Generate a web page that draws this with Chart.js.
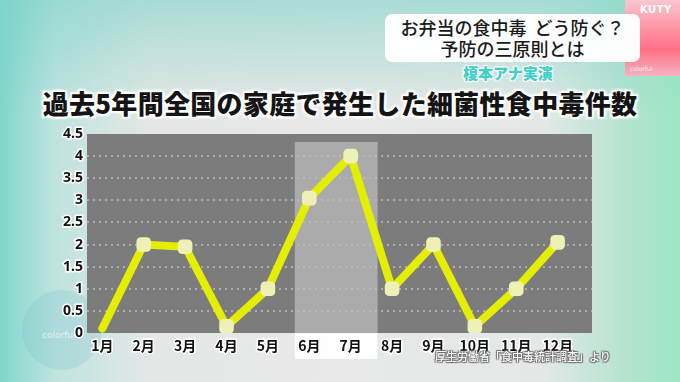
<!DOCTYPE html>
<html>
<head>
<meta charset="utf-8">
<script src="https://cdn.jsdelivr.net/npm/chart.js@4/dist/chart.umd.min.js"></script>
<style>
  html, body { margin:0; padding:0; }
  body {
    width:680px; height:382px; overflow:hidden; position:relative;
    font-family:"Noto Sans CJK JP","Noto Sans",sans-serif;
    background:
      linear-gradient(180deg, rgba(120,210,200,0.55) 0%, rgba(200,230,228,0.0) 30%),
      linear-gradient(90deg, #80d6cc 0%, #bfe3df 8%, #e4e7e6 22%, #e8e8e8 50%, #e3e8e7 80%, #b4e3d0 92%, #9ee6c2 100%);
  }
  #c { position:absolute; left:0; top:0; }
  .pink { position:absolute; left:625px; top:0; width:55px; height:76px;
    background:linear-gradient(180deg,#f9c6cf 0%,#ff8a9c 45%,#ff6f86 65%,#f8b3c0 100%); }
  .kuty { position:absolute; left:640px; top:4px; color:#fff; font:bold 10px "DejaVu Sans",sans-serif; letter-spacing:0.5px; }
  .colorful { position:absolute; left:630px; top:65px; color:#fff; font:6px "DejaVu Sans",sans-serif; opacity:0.85; }
  .banner { position:absolute; left:385px; top:14px; width:255px; height:48px;
    background:rgba(255,255,255,0.97); border-radius:7px; text-align:center;
    font-size:18px; line-height:21px; color:#1a1a1a; font-weight:500; padding-top:3px; box-sizing:border-box; }
  .ana { position:absolute; left:463px; top:62px; font-size:15px; font-weight:900; color:#3fcfc6;
    text-shadow:0 0 2px #fff,0 0 2px #fff,1px 1px 1px #fff,-1px -1px 1px #fff,1px -1px 1px #fff,-1px 1px 1px #fff; }
  .title { position:absolute; left:0; top:84px; width:680px; text-align:center; font-size:26px; font-weight:900;
    color:#141414; letter-spacing:0.3px;
    text-shadow:0 0 3px #fff,0 0 3px #fff,2px 2px 2px #fff,-2px -2px 2px #fff,2px -2px 2px #fff,-2px 2px 2px #fff; }
  .src { position:absolute; left:435px; top:348px; font-size:11px; color:#fff; font-weight:500;
    text-shadow:0 0 1px #555,1px 1px 1px #777,-1px -1px 1px #777,1px -1px 1px #777,-1px 1px 1px #777; }
  .circ { position:absolute; left:22px; top:290px; width:80px; height:80px; border-radius:50%;
    background:rgba(110,185,200,0.22); }
  .wm { position:absolute; left:42px; top:330px; font:9px "DejaVu Sans",sans-serif; color:rgba(255,255,255,0.7); }
</style>
</head>
<body>
<div class="circ"></div>
<div class="wm">colorful</div>
<div class="pink"></div>
<div class="kuty">KUTY</div>
<div class="colorful">colorful</div>
<div class="banner">お弁当の食中毒&nbsp;&nbsp;どう防ぐ？<br>予防の三原則とは</div>
<div class="ana">榎本アナ実演</div>
<div class="title">過去5年間全国の家庭で発生した細菌性食中毒件数</div>
<canvas id="c" width="680" height="382"></canvas>
<div class="src">厚生労働省「食中毒統計調査」より</div>
<script>
const months = ["1月","2月","3月","4月","5月","6月","7月","8月","9月","10月","11月","12月"];
const cases  = [0.1, 2, 1.95, 0.15, 1, 3.05, 4, 1, 2, 0.15, 1, 2.05];
const markerSizes = [0, 8.5, 8.5, 8.5, 8.5, 8.5, 8.5, 8.5, 8.5, 8.5, 8.5, 8.5];
const highlightFrom = 4.65;
const highlightTo = 6.65;

const bgPlugin = {
  id: 'bgPlugin',
  beforeDraw(chart) {
    const {ctx, chartArea: a, scales} = chart;
    ctx.save();
    ctx.fillStyle = '#7c7c7c';
    ctx.fillRect(a.left, a.top, a.right - a.left, a.bottom - a.top);
    const x1 = scales.x.getPixelForValue(highlightFrom);
    const x2 = scales.x.getPixelForValue(highlightTo);
    const yTop = scales.y.getPixelForValue(4.32);
    ctx.fillStyle = 'rgba(210,210,210,0.55)';
    ctx.fillRect(x1, yTop, x2 - x1, a.bottom - yTop);
    ctx.fillStyle = 'rgba(255,255,255,0.92)';
    ctx.fillRect(x1, a.bottom, x2 - x1, 26);
    ctx.restore();
  }
};

new Chart(document.getElementById('c'), {
  type: 'line',
  data: {
    datasets: [{
      data: cases.map((v, i) => ({x: i, y: v})),
      borderColor: '#e4ee00',
      borderWidth: 8,
      borderCapStyle: 'round',
      borderJoinStyle: 'miter',
      tension: 0,
      pointStyle: 'rectRounded',
      pointRadius: markerSizes,
      pointBackgroundColor: '#eef0b6',
      pointBorderWidth: 0,
      pointHoverRadius: markerSizes
    }]
  },
  options: {
    responsive: false,
    animation: false,
    events: [],
    layout: { padding: { top: 134, right: 88, left: 0, bottom: 0 } },
    plugins: { legend: { display: false }, tooltip: { enabled: false } },
    scales: {
      x: {
        type: 'linear',
        min: -0.37,
        max: 11.83,
        afterFit(s) { s.height = 49; },
        afterBuildTicks(s) { s.ticks = months.map((m, i) => ({ value: i })); },
        grid: { display: false, drawTicks: false },
        border: { display: false },
        ticks: {
          autoSkip: false,
          maxRotation: 0,
          padding: 4,
          color: '#111',
          textStrokeColor: '#fff',
          textStrokeWidth: 3,
          font: { family: '"Noto Sans CJK JP", sans-serif', size: 14, weight: 'bold' },
          callback: (v) => months[v]
        }
      },
      y: {
        min: 0,
        max: 4.5,
        afterFit(s) { s.width = 87; },
        grid: {
          drawTicks: false,
          lineWidth: 2,
          color: (c) => (c.tick && (c.tick.value === 0 || c.tick.value === 4.5)) ? 'rgba(0,0,0,0)' : 'rgba(190,190,190,0.75)'
        },
        border: { display: false, dash: [2, 4] },
        ticks: {
          stepSize: 0.5,
          padding: 4,
          color: '#111',
          textStrokeColor: '#fff',
          textStrokeWidth: 3,
          font: { family: '"Noto Sans", sans-serif', size: 14, weight: 'bold' },
          callback: (v) => String(v)
        }
      }
    }
  },
  plugins: [bgPlugin]
});
</script>
</body>
</html>
